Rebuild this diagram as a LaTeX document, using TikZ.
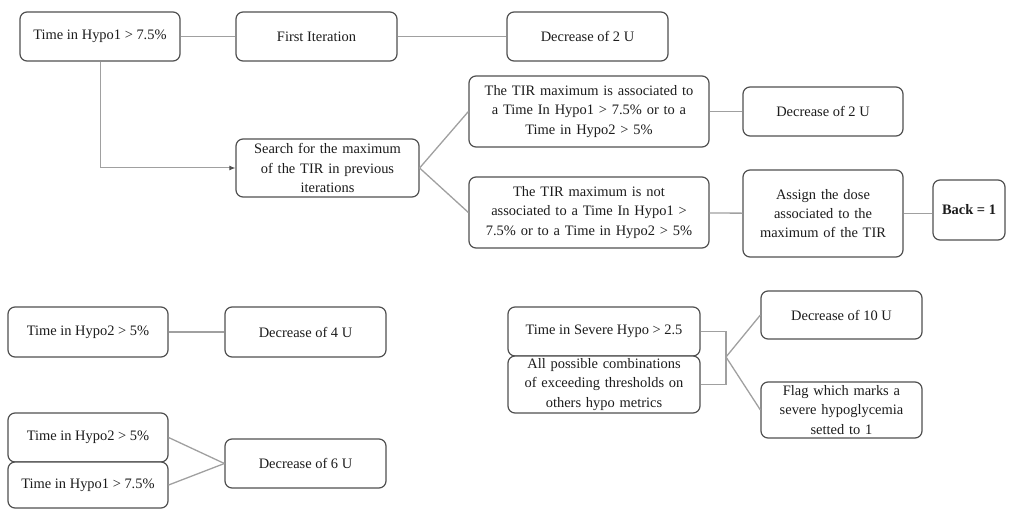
\documentclass[tikz,border=0pt]{standalone}
\usepackage{fontspec}
\setmainfont{Liberation Serif}
\usetikzlibrary{arrows.meta}
\definecolor{boxline}{HTML}{505050}
\definecolor{conn}{HTML}{A0A0A0}
\definecolor{txt}{HTML}{1C1C1C}
\tikzset{
  box/.style={draw=boxline, line width=1.2bp, rounded corners=7bp, fill=white,
    align=center, inner sep=0pt, text=txt, font=\fontsize{14.5}{19.5}\selectfont},
  link/.style={draw=conn, line width=1.3bp},
}
\begin{document}
\begin{tikzpicture}[x=1bp,y=-1bp]
\useasboundingbox (0,0) rectangle (1009,509);
% top row
\node[box, minimum width=160bp, minimum height=49bp] (h1a) at (100,36.5) {Time in Hypo1 > 7.5\%};
\node[box, minimum width=161bp, minimum height=49bp] (first) at (316.5,36.5) {First Iteration};
\node[box, minimum width=161bp, minimum height=49bp] (dec2a) at (587.5,36.5) {Decrease of 2 U};
\node[box, minimum width=183bp, minimum height=58bp, text width=170bp] (search) at (327.5,168) {Search for the maximum\\of the TIR in previous\\iterations};
\node[box, minimum width=240bp, minimum height=71bp, text width=230bp] (assoc) at (589,111.5) {The TIR maximum is associated to\\a Time In Hypo1 > 7.5\% or to a\\Time in Hypo2 > 5\%};
\node[box, minimum width=240bp, minimum height=71bp, text width=230bp] (notassoc) at (589,212.5) {The TIR maximum is not\\associated to a Time In Hypo1 >\\7.5\% or to a Time in Hypo2 > 5\%};
\node[box, minimum width=160bp, minimum height=49bp] (dec2b) at (823,111.5) {Decrease of 2 U};
\node[box, minimum width=160bp, minimum height=87bp, text width=150bp] (assign) at (823,213.5) {Assign the dose\\associated to the\\maximum of the TIR};
\node[box, minimum width=72bp, minimum height=60bp] (back) at (969,210) {\textbf{Back = 1}};
% middle
\node[box, minimum width=160bp, minimum height=50bp] (h2a) at (88,332) {Time in Hypo2 > 5\%};
\node[box, minimum width=161bp, minimum height=50bp] (dec4) at (305.5,332) {Decrease of 4 U};
% bottom
\node[box, minimum width=160bp, minimum height=49bp] (h2b) at (88,437.5) {Time in Hypo2 > 5\%};
\node[box, minimum width=160bp, minimum height=46bp] (h1b) at (88,485) {Time in Hypo1 > 7.5\%};
\node[box, minimum width=161bp, minimum height=49bp] (dec6) at (305.5,463.5) {Decrease of 6 U};
% severe
\node[box, minimum width=192bp, minimum height=49bp] (sev) at (604,331.5) {Time in Severe Hypo > 2.5};
\node[box, minimum width=192bp, minimum height=57bp, text width=185bp] (allc) at (604,384.5) {All possible combinations\\of exceeding thresholds on\\others hypo metrics};
\node[box, minimum width=161bp, minimum height=48bp] (dec10) at (841.5,315) {Decrease of 10 U};
\node[box, minimum width=161bp, minimum height=56bp, text width=150bp] (flag) at (841.5,410) {Flag which marks a\\severe hypoglycemia\\setted to 1};
\coordinate (j) at (726,357);
% connectors
\draw[link] (h1a) -- (first);
\draw[link] (first) -- (dec2a);
\draw[link, -{Latex[length=6bp,width=5bp,color=boxline]}, line width=1bp] (h1a.south) |- (search.west);
\draw[link] (search.east) -- (assoc.west);
\draw[link] (search.east) -- (notassoc.west);
\draw[link] (assoc) -- (dec2b);
\draw[link] (notassoc) -- (assign);
\draw[link] (assign.east) -- (assign.east -| back.west);
\draw[link] (h2a) -- (dec4);
\draw[link] (h2b.east) -- (dec6.west);
\draw[link] (h1b.east) -- (dec6.west);
\draw[link] (sev.east) -- (sev.east -| j) -- (allc.east -| j) -- (allc.east);
\draw[link] (j) -- (dec10.west);
\draw[link] (j) -- (flag.west);
\end{tikzpicture}
\end{document}
